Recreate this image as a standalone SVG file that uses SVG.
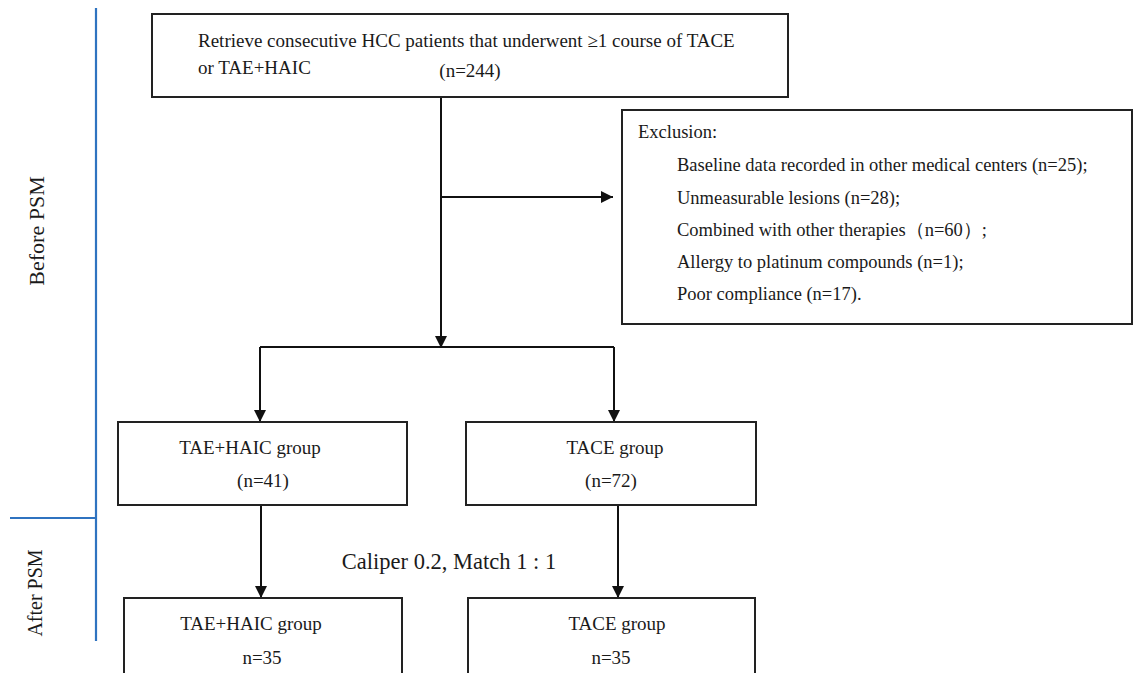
<svg xmlns="http://www.w3.org/2000/svg" width="1134" height="673" viewBox="0 0 1134 673">
<style>
text{font-family:"Liberation Serif","Times New Roman",serif;fill:#1a1a1a}
.box{fill:#fff;stroke:#222;stroke-width:2}
.t{font-size:19px}
.ex{font-size:18.5px}
.c{text-anchor:middle}
.ln{stroke:#111;stroke-width:2;fill:none}
.blue{stroke:#2f73c0;stroke-width:2.2;fill:none}
</style>
<defs>
<marker id="ah" markerWidth="12" markerHeight="12" refX="12" refY="6" orient="auto" markerUnits="userSpaceOnUse">
<path d="M0,0 L12,6 L0,12 Z" fill="#111"/>
</marker>
</defs>
<rect width="1134" height="673" fill="#fff"/>
<g id="phase">
<line class="blue" x1="96" y1="8" x2="96" y2="641"/>
<line class="blue" x1="10" y1="518" x2="96" y2="518"/>
<text transform="translate(44,231) rotate(-90)" class="c" font-size="22">Before PSM</text>
<text transform="translate(42,593) rotate(-90)" class="c" font-size="20">After PSM</text>
</g>
<g id="connectors">
<line class="ln" x1="441" y1="97" x2="441" y2="348" marker-end="url(#ah)"/>
<line class="ln" x1="441" y1="197" x2="613" y2="197" marker-end="url(#ah)"/>
<line class="ln" x1="260" y1="347" x2="614" y2="347"/>
<line class="ln" x1="260" y1="347" x2="260" y2="422" marker-end="url(#ah)"/>
<line class="ln" x1="614" y1="347" x2="614" y2="422" marker-end="url(#ah)"/>
<line class="ln" x1="261" y1="505" x2="261" y2="598" marker-end="url(#ah)"/>
<line class="ln" x1="618" y1="505" x2="618" y2="598" marker-end="url(#ah)"/>
<text x="449" y="569" class="c" font-size="22.5">Caliper 0.2, Match 1 : 1</text>
</g>
<g id="n-retrieve">
<rect class="box" x="152" y="14" width="636" height="83"/>
<text x="198" y="47" class="t">Retrieve consecutive HCC patients that underwent ≥1 course of TACE</text>
<text x="198" y="74" class="t">or TAE+HAIC</text>
<text x="470" y="77" class="t c">(n=244)</text>
</g>
<g id="n-exclusion">
<rect class="box" x="622" y="110" width="510" height="214"/>
<text x="638" y="138" class="ex">Exclusion:</text>
<text x="677" y="171" class="ex">Baseline data recorded in other medical centers (n=25);</text>
<text x="677" y="204" class="ex">Unmeasurable lesions (n=28);</text>
<text x="677" y="236" class="ex">Combined with other therapies（n=60）;</text>
<text x="677" y="268" class="ex">Allergy to platinum compounds (n=1);</text>
<text x="677" y="300" class="ex">Poor compliance (n=17).</text>
</g>
<g id="n-haic1">
<rect class="box" x="118" y="422" width="289" height="83"/>
<text x="250" y="454" class="t c">TAE+HAIC group</text>
<text x="263" y="487" class="t c">(n=41)</text>
</g>
<g id="n-tace1">
<rect class="box" x="466" y="422" width="290" height="83"/>
<text x="615" y="454" class="t c">TACE group</text>
<text x="611" y="487" class="t c">(n=72)</text>
</g>
<g id="n-haic2">
<rect class="box" x="124" y="598" width="278" height="95"/>
<text x="251" y="630" class="t c">TAE+HAIC group</text>
<text x="262" y="664" class="t c">n=35</text>
</g>
<g id="n-tace2">
<rect class="box" x="468" y="598" width="287" height="95"/>
<text x="617" y="630" class="t c">TACE group</text>
<text x="611" y="664" class="t c">n=35</text>
</g>
</svg>
